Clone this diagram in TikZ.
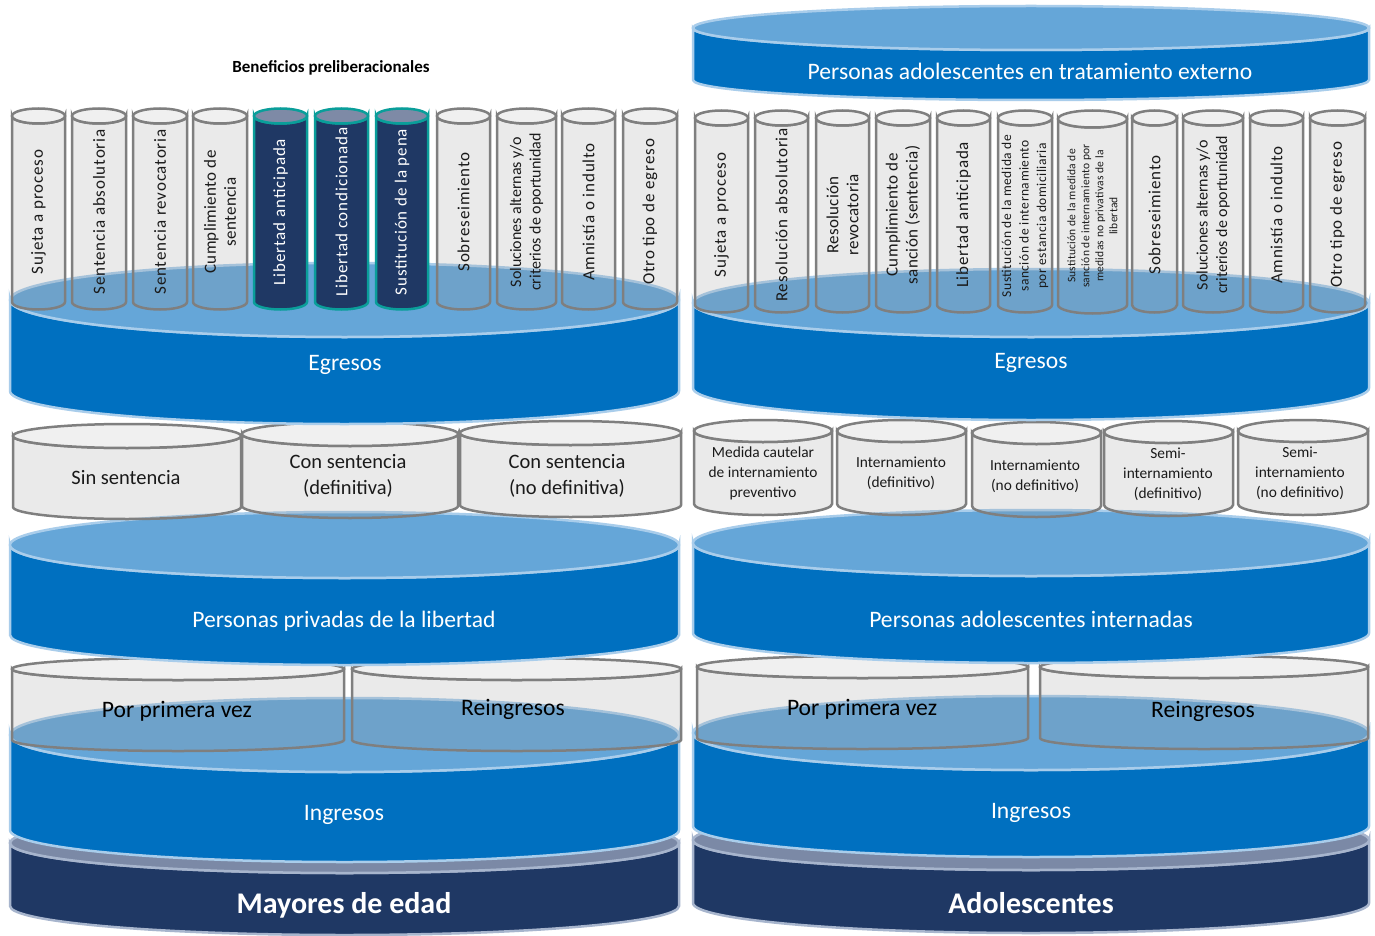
\documentclass[tikz,border=0pt]{standalone}
\usepackage{fontspec}
\setmainfont{Carlito}
\definecolor{diskTop}{HTML}{65A6D8}
\definecolor{diskBody}{HTML}{0070C0}
\definecolor{diskEdge}{HTML}{A9CDEB}
\definecolor{navy}{HTML}{1F3864}
\definecolor{navyTop}{HTML}{7B89A6}
\definecolor{navyEdge}{HTML}{A7B5CD}
\definecolor{cylEdge}{HTML}{7F7F7F}
\definecolor{cylGray}{RGB}{150,150,150}
\definecolor{cylTopC}{HTML}{F0F0F0}
\definecolor{tealEdge}{HTML}{0A9E9A}
\definecolor{darkTop}{HTML}{7E8AA6}
\definecolor{txtDark}{HTML}{1A1A1A}
\newcommand\mycyl[7]{%
 \pgfmathsetmacro\cyX{(#1+#2)/2}%
 \pgfmathsetmacro\cyR{(#2-#1)/2}%
 \path[#6] (#1,#3) -- (#1,#4) arc[start angle=180,end angle=0,x radius=\cyR,y radius=#5] -- (#2,#3) arc[start angle=0,end angle=180,x radius=\cyR,y radius=#5] -- cycle;
 \path[#7] (\cyX,#3) ellipse[x radius=\cyR,y radius=#5];
}
\newcommand\mydisk[8]{%
 \pgfmathsetmacro\dkX{(#1+#2)/2}%
 \pgfmathsetmacro\dkR{(#2-#1)/2}%
 \path[#7] (#1,#3) -- (#1,#4) arc[start angle=180,end angle=0,x radius=\dkR,y radius=#6] -- (#2,#3) arc[start angle=0,end angle=180,x radius=\dkR,y radius=#5] -- cycle;
 \path[#8] (\dkX,#3) ellipse[x radius=\dkR,y radius=#5];
}
\tikzset{
 bluebody/.style={fill=diskBody, draw=diskEdge, line width=2.5},
 bluetop/.style={fill=diskTop, draw=diskEdge, line width=2.5},
 navybody/.style={fill=navy, draw=navyEdge, line width=2.5},
 navytop/.style={fill=navyTop, draw=navyEdge, line width=2.5},
 graybody/.style={fill=cylGray, fill opacity=0.2, draw=cylEdge, line width=2.5},
 graytop/.style={fill=cylTopC, draw=cylEdge, line width=2.5},
 darkbody/.style={fill=navy, draw=tealEdge, line width=2.5},
 darktop/.style={fill=darkTop, draw=tealEdge, line width=2.5},
 coltxt/.style={rotate=90, align=center, text=txtDark, inner sep=0pt, font=\fontsize{17}{20}\selectfont\addfontfeature{LetterSpace=5}},
 coltxtw/.style={coltxt, text=white},
 coltwo/.style={coltxt, font=\fontsize{17}{20}\selectfont\addfontfeature{LetterSpace=2}},
 colsol/.style={coltxt, font=\fontsize{16}{19.5}\selectfont},
 disktxt/.style={text=white, align=center, inner sep=0pt, font=\fontsize{23.6}{27}\selectfont},
 basetxt/.style={text=white, align=center, inner sep=0pt, font=\fontsize{30}{34}\selectfont\bfseries},
 rowtxt/.style={text=txtDark, align=center, inner sep=0pt, font=\fontsize{20.5}{26}\selectfont},
 rowtxts/.style={text=txtDark, align=center, inner sep=0pt, font=\fontsize{15.4}{20}\selectfont},
 pctxt/.style={text=black, align=center, inner sep=0pt, font=\fontsize{23.6}{27}\selectfont},
}
\begin{document}
\begin{tikzpicture}[x=1pt,y=-1pt]
\useasboundingbox (0,0) rectangle (1375,936);
\fill[white] (0,0) rectangle (1375,936);

% ---- base disks
\mydisk{10}{679}{843}{906}{30}{29}{navybody}{navytop}
\mydisk{693}{1369}{840}{903}{30}{30}{navybody}{navytop}
% ---- Ingresos
\mydisk{10}{679}{735}{830}{37}{32}{bluebody}{bluetop}
\mydisk{693}{1369}{733}{826}{37}{31}{bluebody}{bluetop}
% ---- row 3 cylinders
\mycyl{12}{344}{669}{740}{11}{graybody}{graytop}
\mycyl{352}{681}{669}{740}{11}{graybody}{graytop}
\mycyl{697}{1028}{667}{738}{11}{graybody}{graytop}
\mycyl{1040}{1368}{667}{738}{11}{graybody}{graytop}
% ---- Personas disks
\mydisk{10}{679}{545}{635}{33}{30}{bluebody}{bluetop}
\mydisk{693}{1369}{543}{633}{33}{30}{bluebody}{bluetop}
% ---- row 2 cylinders
\mycyl{13}{241}{436}{507}{12}{graybody}{graytop}
\mycyl{242}{458}{434}{506}{12}{graybody}{graytop}
\mycyl{460}{681}{433}{505}{12}{graybody}{graytop}
\mycyl{694}{832}{431}{504}{11}{graybody}{graytop}
\mycyl{837}{966}{431}{504}{11}{graybody}{graytop}
\mycyl{972}{1101}{433}{506}{11}{graybody}{graytop}
\mycyl{1104}{1233}{432}{505}{11}{graybody}{graytop}
\mycyl{1238}{1368}{431}{504}{11}{graybody}{graytop}
% ---- Egresos disks
\mydisk{10}{679}{300}{391}{37}{33}{bluebody}{bluetop}
\mydisk{693}{1369}{303}{388}{34}{32}{bluebody}{bluetop}
% ---- tratamiento externo
\mydisk{693}{1369}{28}{80}{22}{20}{bluebody}{bluetop}
% ---- left columns
\mycyl{12}{65}{116}{302}{7.5}{graybody}{graytop}
\mycyl{72}{126}{116}{302}{7.5}{graybody}{graytop}
\mycyl{133}{187}{116}{302}{7.5}{graybody}{graytop}
\mycyl{193}{247}{116}{302}{7.5}{graybody}{graytop}
\mycyl{254}{307}{116}{302}{7.5}{darkbody}{darktop}
\mycyl{315}{368}{116}{302}{7.5}{darkbody}{darktop}
\mycyl{376}{428}{116}{302}{7.5}{darkbody}{darktop}
\mycyl{437}{490}{116}{302}{7.5}{graybody}{graytop}
\mycyl{497}{556}{116}{302}{7.5}{graybody}{graytop}
\mycyl{562}{615}{116}{302}{7.5}{graybody}{graytop}
\mycyl{623}{677}{116}{302}{7.5}{graybody}{graytop}
% ---- right columns
\mycyl{695}{748}{118}{305}{7.5}{graybody}{graytop}
\mycyl{755}{808}{118}{305}{7.5}{graybody}{graytop}
\mycyl{816}{869}{118}{305}{7.5}{graybody}{graytop}
\mycyl{876}{930}{118}{305}{7.5}{graybody}{graytop}
\mycyl{937}{990}{118}{305}{7.5}{graybody}{graytop}
\mycyl{998}{1052}{118}{305}{7.5}{graybody}{graytop}
\mycyl{1058}{1127}{119}{305}{8.5}{graybody}{graytop}
\mycyl{1132}{1177}{118}{305}{7.5}{graybody}{graytop}
\mycyl{1183}{1243}{118}{305}{7.5}{graybody}{graytop}
\mycyl{1250}{1303}{118}{305}{7.5}{graybody}{graytop}
\mycyl{1310}{1365}{118}{305}{7.5}{graybody}{graytop}

% ---- texts
\node[text=black, inner sep=0pt, font=\fontsize{17}{20}\selectfont\bfseries] (ben) at (331,68) {Beneficios preliberacionales};

\node[coltxt] (l1) at (38.5,212) {Sujeta a proceso};
\node[coltxt] (l2) at (99,212) {Sentencia absolutoria};
\node[coltxt] (l3) at (160,212) {Sentencia revocatoria};
\node[coltwo] (l4) at (220,212) {Cumplimiento de\\sentencia};
\node[coltxtw] (l5) at (280.5,212) {Libertad anticipada};
\node[coltxtw] (l6) at (341.5,212) {Libertad condicionada};
\node[coltxtw] (l7) at (402,212) {Sustitución de la pena};
\node[coltxt] (l8) at (463.5,212) {Sobreseimiento};
\node[colsol] (l9) at (526.5,212) {Soluciones alternas y/o\\criterios de oportunidad};
\node[coltxt] (l10) at (588.5,212) {Amnistía o indulto};
\node[coltxt] (l11) at (650,212) {Otro tipo de egreso};

\node[coltxt] (r1) at (721.5,215) {Sujeta a proceso};
\node[coltxt] (r2) at (781.5,215) {Resolución absolutoria};
\node[coltwo] (r3) at (842.5,215) {Resolución\\revocatoria};
\node[coltwo] (r4) at (903,215) {Cumplimiento de\\sanción (sentencia)};
\node[coltxt] (r5) at (963.5,215) {Libertad anticipada};
\node[coltxt, font=\fontsize{13.5}{17.5}\selectfont\addfontfeature{LetterSpace=4}] (r6) at (1025,216) {Sustitución de la medida de\\sanción de internamiento\\por estancia domiciliaria};
\node[coltxt, font=\fontsize{11.5}{14}\selectfont\addfontfeature{LetterSpace=2}] (r7) at (1092.5,216) {Sustitución de la medida de\\sanción de internamiento por\\medidas no privativas de la\\libertad};
\node[coltxt] (r8) at (1154.5,215) {Sobreseimiento};
\node[colsol] (r9) at (1213,215) {Soluciones alternas y/o\\criterios de oportunidad};
\node[coltxt] (r10) at (1276.5,215) {Amnistía o indulto};
\node[coltxt] (r11) at (1337.5,215) {Otro tipo de egreso};

\node[disktxt] (ext) at (1030,71) {Personas adolescentes en tratamiento externo};
\node[disktxt] (egl) at (345,365) {Egresos};
\node[disktxt] (egr) at (1031,363) {Egresos};

\node[rowtxt] (s1) at (126,478) {Sin sentencia};
\node[rowtxt] (s2) at (348,476) {Con sentencia\\(definitiva)};
\node[rowtxt] (s3) at (567,476) {Con sentencia\\(no definitiva)};
\node[rowtxts] (a1) at (763,473) {Medida cautelar\\de internamiento\\preventivo};
\node[rowtxts] (a2) at (901,473) {Internamiento\\(definitivo)};
\node[rowtxts] (a3) at (1035,476) {Internamiento\\(no definitivo)};
\node[rowtxts] (a4) at (1168,474) {Semi-\\internamiento\\(definitivo)};
\node[rowtxts] (a5) at (1300,473) {Semi-\\internamiento\\(no definitivo)};

\node[disktxt] (ppl) at (344,621) {Personas privadas de la libertad};
\node[disktxt] (pai) at (1031,619) {Personas adolescentes internadas};

\node[pctxt] (p1) at (177,711) {Por primera vez};
\node[pctxt] (p2) at (513,709) {Reingresos};
\node[pctxt] (p3) at (862,709) {Por primera vez};
\node[pctxt] (p4) at (1203,711) {Reingresos};

\node[disktxt] (inl) at (344,815) {Ingresos};
\node[disktxt] (inr) at (1031,813) {Ingresos};
\node[basetxt] (may) at (344,905) {Mayores de edad};
\node[basetxt] (ado) at (1031,903) {Adolescentes};
\end{tikzpicture}
\end{document}
